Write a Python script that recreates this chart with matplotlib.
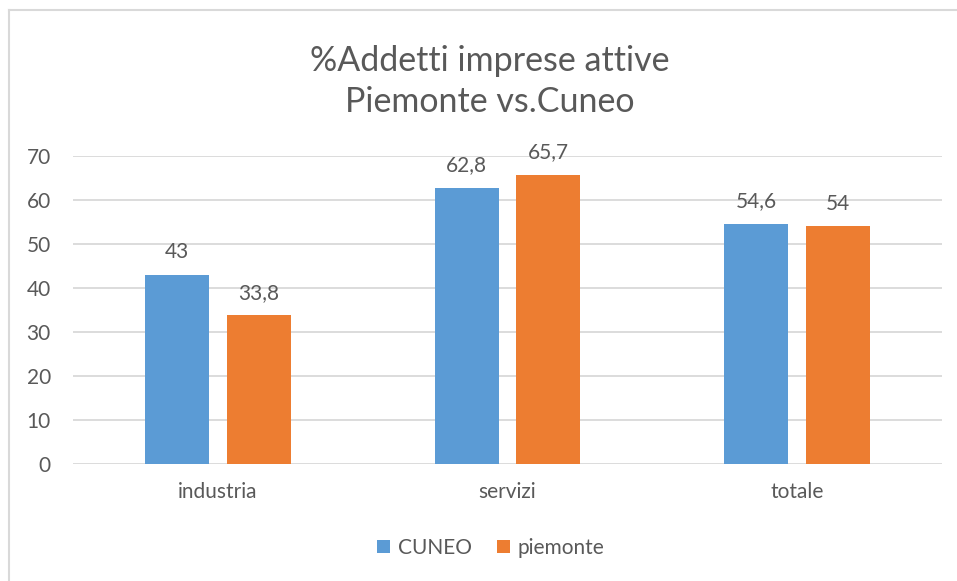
import matplotlib.pyplot as plt
from matplotlib.lines import Line2D
import numpy as np

plt.rcParams['font.family'] = ['Lato', 'DejaVu Sans']

categories = ['industria', 'servizi', 'totale']
cuneo = [43, 62.8, 54.6]
piemonte = [33.8, 65.7, 54]
labels_cuneo = ['43', '62,8', '54,6']
labels_piemonte = ['33,8', '65,7', '54']

blue = '#5B9BD5'
orange = '#ED7D31'
txt = '#595959'
grid = '#D9D9D9'

W, H = 957, 581
fig = plt.figure(figsize=(W / 100, H / 100), dpi=100)
ax = fig.add_axes([73 / W, 1 - 464 / H, (942 - 73) / W, (464 - 156) / H])

x = np.arange(len(categories))
bw = 0.221
off = bw / 2 + 0.031
b1 = ax.bar(x - off, cuneo, bw, color=blue, label='CUNEO')
b2 = ax.bar(x + off, piemonte, bw, color=orange, label='piemonte')

for bars, labs in ((b1, labels_cuneo), (b2, labels_piemonte)):
    for r, s in zip(bars, labs):
        ax.annotate(s, (r.get_x() + r.get_width() / 2, r.get_height()),
                    xytext=(0, 9), textcoords='offset points',
                    ha='center', va='bottom', fontsize=15, color=txt)

ax.set_xlim(-0.5, 2.5)
ax.set_ylim(0, 70)
ax.set_yticks(range(0, 71, 10))
ax.set_xticks(x)
ax.set_xticklabels(categories)
ax.yaxis.grid(True, color=grid, linewidth=1.3)
ax.set_axisbelow(True)
for s in ax.spines.values():
    s.set_visible(False)
ax.tick_params(length=0, labelsize=15, colors=txt)
ax.tick_params(axis='y', pad=16)
ax.tick_params(axis='x', pad=13)

fig.text(490 / W, 1 - 61 / H, '%Addetti imprese attive', ha='center', va='center',
         fontsize=24.5, color=txt)
fig.text(490 / W, 1 - 102 / H, 'Piemonte vs.Cuneo', ha='center', va='center',
         fontsize=24.5, color=txt)

fig.legend(loc='center', bbox_to_anchor=(491 / W, 1 - 548 / H), ncol=2, frameon=False,
           fontsize=15, labelcolor=txt, handlelength=0.6, handleheight=0.6,
           handletextpad=0.4, columnspacing=1.2)

# chart border (only left and top edges are inside the crop)
fig.add_artist(Line2D([9 / W, 9 / W], [0, 1 - 10 / H], transform=fig.transFigure,
                      color=grid, linewidth=1.5))
fig.add_artist(Line2D([9 / W, 1], [1 - 10 / H, 1 - 10 / H], transform=fig.transFigure,
                      color=grid, linewidth=1.5))

fig.savefig('out.png', dpi=100)
